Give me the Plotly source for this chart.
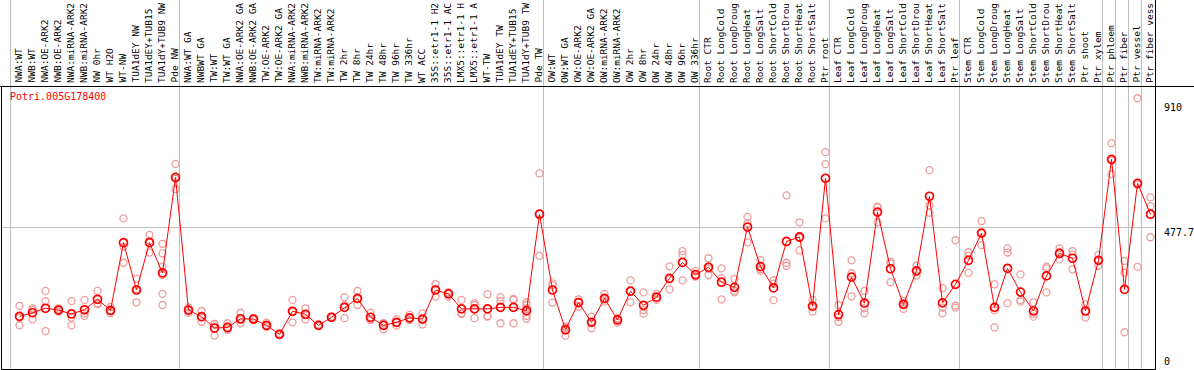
import plotly.graph_objects as go

gene = "Potri.005G178400"

categories = [
    "NWA:WT", "NWB:WT", "NWA:OE-ARK2", "NWB:OE-ARK2", "NWA:miRNA-ARK2", "NWB:miRNA-ARK2",
    "NW 0hr", "WT H2O", "WT-NW", "TUA1dEY NW", "TUA1dEY+TUB15", "TUA1dY+TUB9 NW", "Pde NW",
    "NWA:WT GA", "NWBWT GA", "TW:WT", "TW:WT GA", "NWA:OE-ARK2 GA", "NWB:OE-ARK2 GA",
    "TW:OE-ARK2", "TW:OE-ARK2 GA", "NWA:miRNA-ARK2", "NWB:miRNA-ARK2", "TW:miRNA-ARK2",
    "TW:miRNA-ARK2", "TW 2hr", "TW 8hr", "TW 24hr", "TW 48hr", "TW 96hr", "TW 336hr",
    "WT ACC", "35S::etr1-1 H2", "35S::etr1-1 AC", "LMX5::etr1-1 H", "LMX5::etr1-1 A",
    "WT-TW", "TUA1dEY TW", "TUA1dEY+TUB15", "TUA1dY+TUB9 TW", "Pde TW",
    "OW:WT", "OW:WT GA", "OW:OE-ARK2", "OW:OE-ARK2 GA", "OW:miRNA-ARK2", "OW:miRNA-ARK2",
    "OW 2hr", "OW 8hr", "OW 24hr", "OW 48hr", "OW 96hr", "OW 336hr",
    "Root CTR", "Root LongCold", "Root LongDroug", "Root LongHeat", "Root LongSalt",
    "Root ShortCold", "Root ShortDrou", "Root ShortHeat", "Root ShortSalt", "Ptr root",
    "Leaf CTR", "Leaf LongCold", "Leaf LongDroug", "Leaf LongHeat", "Leaf LongSalt",
    "Leaf ShortCold", "Leaf ShortDrou", "Leaf ShortHeat", "Leaf ShortSalt", "Ptr leaf",
    "Stem CTR", "Stem LongCold", "Stem LongDroug", "Stem LongHeat", "Stem LongSalt",
    "Stem ShortCold", "Stem ShortDrou", "Stem ShortHeat", "Stem ShortSalt", "Ptr shoot",
    "Ptr xylem", "Ptr phloem", "Ptr fiber", "Ptr vessel", "Ptr fiber vess",
]

# group boundaries (index of first category of each group)
group_starts = [0, 13, 41, 53, 63, 73, 84, 85, 86, 87]

means = [
    182, 194, 209, 203, 190, 204, 239, 202, 428, 270, 428, 327, 646,
    203, 181, 143, 145, 174, 173, 152, 122, 199, 189, 152, 179, 212, 242, 179,
    152, 162, 177, 173, 270, 257, 207, 207, 207, 212, 212, 201, 523,
    270, 137, 228, 162, 242, 170, 266, 219, 246, 309, 362, 321,
    346, 296, 279, 480, 348, 277, 432, 447, 216, 643,
    188, 313, 226, 530, 341, 222, 334, 583, 227, 289,
    369, 460, 212, 342, 263, 200, 317, 392, 376, 200,
    369, 706, 272, 626, 523,
]

replicates = [
    [217, 152, 178], [209, 203, 172], [267, 233, 133], [209, 203, 198], [233, 178, 152],
    [237, 192, 184], [267, 226, 222], [214, 192, 200], [509, 361, 414], [307, 229, 273],
    [454, 435, 395], [424, 392, 348, 257, 220, 320], [691, 607, 641],
    [212, 203, 194], [200, 164, 179], [155, 118, 157], [159, 137, 141], [194, 159, 170],
    [177, 170, 173], [161, 148, 148], [125, 120, 121], [237, 162, 198], [209, 172, 186],
    [155, 150, 151], [181, 177, 179], [246, 220, 176], [267, 220, 240], [194, 170, 172],
    [159, 139, 159], [173, 151, 162], [187, 170, 173], [192, 155, 172], [290, 248, 272],
    [259, 248, 263], [237, 190, 193], [226, 220, 176], [256, 181, 183], [246, 233, 159],
    [240, 237, 159], [229, 220, 209, 196, 184, 174], [659, 384, 525],
    [292, 286, 228], [148, 118, 144], [239, 214, 230], [181, 142, 163], [257, 231, 239],
    [176, 161, 173], [302, 229, 266], [262, 203, 191], [257, 237, 243], [349, 272, 306],
    [400, 387, 302], [334, 315, 316],
    [376, 320, 341], [342, 309, 239], [307, 267, 262], [514, 493, 429], [370, 334, 340],
    [303, 236, 291], [586, 361, 351], [496, 402, 443], [237, 198, 212], [730, 690, 509],
    [220, 164, 179], [369, 326, 249], [267, 209, 192], [548, 496, 546], [365, 296, 359],
    [234, 207, 226], [351, 318, 331], [670, 552, 528], [276, 211, 192], [436, 218, 211],
    [396, 327, 385], [500, 420, 460], [289, 145, 202], [409, 395, 226], [322, 237, 231],
    [229, 181, 190], [348, 342, 262], [409, 372, 396], [400, 339, 388], [222, 178, 200],
    [387, 351, 369], [760, 657, 702], [367, 328, 129], [910, 347, 622], [579, 550, 446],
]

y_ticks = [0, 477.7, 910]
y_tick_text = ["0", "477.7", "910"]

# ---------------- layout geometry ----------------
W, H = 1194, 370
L, R, T, B = 1, 39, 86, 0
PW, PH = W - L - R, H - T - B
X_RANGE = [-1.4231, 87.346]
Y_RANGE = [3.0, 950.9]
FONT = "DejaVu Sans Mono"


def px_x(p):
    return (p - L) / PW


def px_y(p):
    return (H - B - p) / PH


n = len(categories)
xs = list(range(n))
rep_x, rep_y = [], []
for i, reps in enumerate(replicates):
    for v in reps:
        rep_x.append(i)
        rep_y.append(v)

fig = go.Figure()
fig.add_trace(go.Scatter(
    x=rep_x, y=rep_y, mode="markers", name="replicates",
    marker=dict(symbol="circle-open", size=7, color="rgb(238,155,155)",
                line=dict(width=1.3, color="rgb(238,155,155)")),
    hoverinfo="y", showlegend=False,
))
fig.add_trace(go.Scatter(
    x=xs, y=means, mode="lines+markers", name=gene,
    line=dict(color="#ff0000", width=1),
    marker=dict(symbol="circle-open", size=8, color="#ff0000",
                line=dict(width=1.7, color="#ff0000")),
    showlegend=False,
))

shapes = []
# group separators (full height incl. label band)
for b in group_starts:
    xv = b - 0.692
    shapes.append(dict(type="line", xref="x", yref="paper", x0=xv, x1=xv,
                       y0=0, y1=px_y(0), line=dict(color="#c0c0c0", width=1),
                       layer="below"))
# frame
blk = dict(color="#000000", width=1)
shapes += [
    dict(type="line", xref="paper", yref="paper", x0=px_x(0), x1=px_x(W),
         y0=px_y(86.5), y1=px_y(86.5), line=blk),
    dict(type="line", xref="paper", yref="paper", x0=px_x(1.5), x1=px_x(1.5),
         y0=px_y(86.5), y1=px_y(370), line=blk),
    dict(type="line", xref="paper", yref="paper", x0=px_x(1), x1=px_x(1155.5),
         y0=px_y(369.5), y1=px_y(369.5), line=blk),
    dict(type="line", xref="paper", yref="paper", x0=px_x(1155.5), x1=px_x(1155.5),
         y0=px_y(0), y1=px_y(370), line=blk),
]

annotations = []
for i, c in enumerate(categories):
    annotations.append(dict(
        x=i, xref="x", y=1, yref="paper", text=c, textangle=-90,
        xanchor="center", yanchor="bottom", xshift=-1.5, yshift=1,
        showarrow=False, font=dict(family=FONT, size=9.5, color="#000000"),
    ))
annotations.append(dict(
    x=px_x(7.5), xref="paper", y=px_y(96.5), yref="paper", text=gene,
    xanchor="left", yanchor="middle", showarrow=False,
    font=dict(family=FONT, size=10, color="#ff0000"),
))
tick_label_y = {"910": 107.5, "477.7": 232.5, "0": 361.7}
for v, t in zip(y_ticks, y_tick_text):
    annotations.append(dict(
        x=px_x(1162), xref="paper", y=px_y(tick_label_y[t]), yref="paper", text=t,
        xanchor="left", yanchor="middle", showarrow=False,
        font=dict(family=FONT, size=10, color="#000000"),
    ))

fig.update_layout(
    width=W, height=H, margin=dict(l=L, r=R, t=T, b=B, pad=0),
    paper_bgcolor="#ffffff", plot_bgcolor="#ffffff",
    xaxis=dict(range=X_RANGE, showgrid=False, zeroline=False, showticklabels=False,
               ticks="", showline=False, fixedrange=True),
    yaxis=dict(range=Y_RANGE, tickvals=[477.7], showgrid=True, gridcolor="#c0c0c0",
               gridwidth=1, zeroline=False, showticklabels=False, ticks="",
               showline=False, fixedrange=True),
    shapes=shapes, annotations=annotations, showlegend=False,
    font=dict(family=FONT, size=10),
)

fig.write_html("out.html", config={"displayModeBar": False},
               post_script="document.body.style.margin='0';document.body.style.overflow='hidden';")
